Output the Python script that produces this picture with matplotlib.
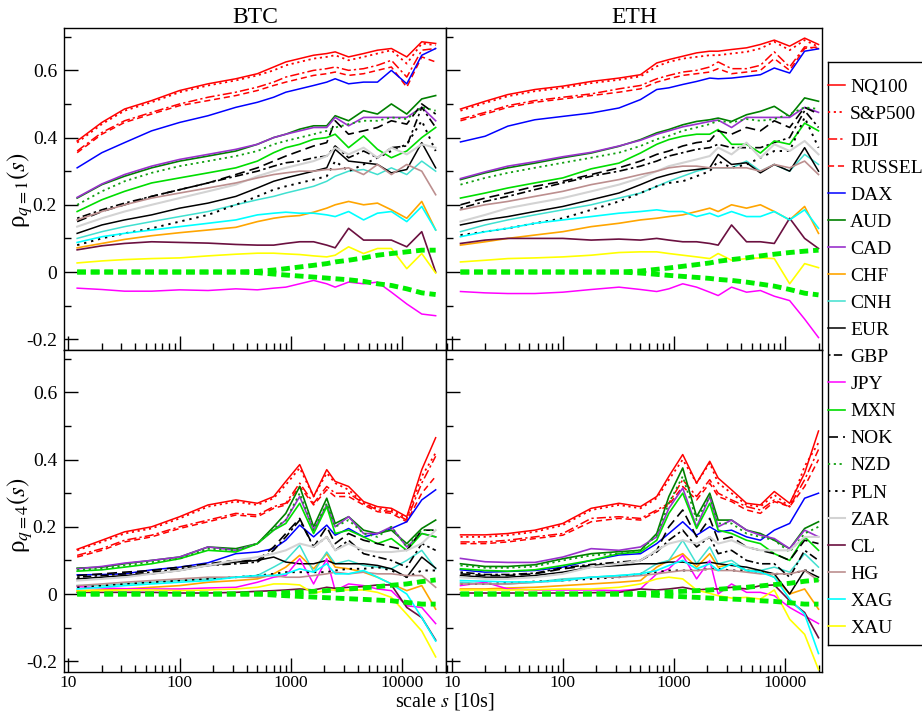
import matplotlib
matplotlib.use('Agg')
import matplotlib.pyplot as plt
from matplotlib.lines import Line2D
from matplotlib.ticker import LogLocator, NullFormatter, FixedLocator

plt.rcParams['font.family'] = ['Liberation Serif', 'DejaVu Serif']
plt.rcParams['mathtext.fontset'] = 'stix'

names = ['NQ100', 'S&P500', 'DJI', 'RUSSEL', 'DAX', 'AUD', 'CAD', 'CHF', 'CNH', 'EUR', 'GBP',
         'JPY', 'MXN', 'NOK', 'NZD', 'PLN', 'ZAR', 'CL', 'HG', 'XAG', 'XAU']

# scale s in units of 10 s
scales = [12, 20, 32, 56, 100, 180, 320, 500, 700, 900, 1200, 1600, 2100, 2500, 3300, 4500,
          6000, 8000, 11000, 15000, 20000]

# ---------------- BTC, q = 1 ----------------
btc_q1 = {
    'NQ100':  [0.39, 0.445, 0.485, 0.51, 0.54, 0.56, 0.575, 0.59, 0.61, 0.625, 0.635, 0.645, 0.65, 0.655, 0.64, 0.65, 0.66, 0.665, 0.64, 0.685, 0.68],
    'S&P500': [0.385, 0.44, 0.48, 0.505, 0.535, 0.555, 0.57, 0.585, 0.60, 0.615, 0.625, 0.635, 0.64, 0.645, 0.63, 0.64, 0.65, 0.66, 0.62, 0.68, 0.675],
    'DJI':    [0.36, 0.415, 0.45, 0.475, 0.50, 0.52, 0.535, 0.55, 0.565, 0.58, 0.59, 0.60, 0.605, 0.61, 0.60, 0.605, 0.615, 0.63, 0.58, 0.66, 0.665],
    'RUSSEL': [0.355, 0.41, 0.445, 0.47, 0.495, 0.51, 0.525, 0.54, 0.555, 0.565, 0.575, 0.585, 0.59, 0.595, 0.585, 0.59, 0.60, 0.61, 0.55, 0.64, 0.625],
    'DAX':    [0.31, 0.355, 0.385, 0.42, 0.445, 0.465, 0.49, 0.505, 0.52, 0.535, 0.545, 0.555, 0.565, 0.575, 0.56, 0.565, 0.565, 0.60, 0.56, 0.645, 0.665],
    'AUD':    [0.22, 0.26, 0.285, 0.31, 0.33, 0.345, 0.36, 0.38, 0.40, 0.41, 0.425, 0.435, 0.435, 0.465, 0.45, 0.48, 0.47, 0.50, 0.47, 0.515, 0.525],
    'CAD':    [0.222, 0.262, 0.29, 0.315, 0.335, 0.35, 0.365, 0.38, 0.40, 0.41, 0.42, 0.43, 0.43, 0.46, 0.435, 0.46, 0.46, 0.46, 0.46, 0.49, 0.45],
    'CHF':    [0.072, 0.085, 0.097, 0.108, 0.117, 0.125, 0.133, 0.15, 0.16, 0.165, 0.168, 0.178, 0.19, 0.2, 0.21, 0.2, 0.205, 0.185, 0.16, 0.21, 0.125],
    'CNH':    [0.1, 0.12, 0.135, 0.15, 0.165, 0.18, 0.2, 0.215, 0.225, 0.235, 0.245, 0.255, 0.27, 0.285, 0.30, 0.305, 0.29, 0.31, 0.29, 0.33, 0.30],
    'EUR':    [0.115, 0.14, 0.155, 0.17, 0.19, 0.205, 0.225, 0.25, 0.27, 0.28, 0.29, 0.30, 0.31, 0.365, 0.33, 0.325, 0.32, 0.295, 0.305, 0.385, 0.31],
    'GBP':    [0.16, 0.185, 0.205, 0.225, 0.245, 0.265, 0.285, 0.30, 0.315, 0.325, 0.33, 0.34, 0.345, 0.375, 0.34, 0.36, 0.34, 0.37, 0.375, 0.49, 0.43],
    'JPY':    [-0.048, -0.052, -0.057, -0.057, -0.053, -0.055, -0.05, -0.053, -0.048, -0.045, -0.035, -0.025, -0.035, -0.045, -0.03, -0.035, -0.03, -0.06, -0.095, -0.125, -0.13],
    'MXN':    [0.18, 0.215, 0.24, 0.265, 0.28, 0.295, 0.31, 0.33, 0.355, 0.37, 0.38, 0.395, 0.40, 0.41, 0.37, 0.405, 0.365, 0.34, 0.36, 0.40, 0.43],
    'NOK':    [0.15, 0.18, 0.20, 0.225, 0.245, 0.265, 0.29, 0.31, 0.33, 0.345, 0.36, 0.375, 0.385, 0.45, 0.41, 0.42, 0.43, 0.45, 0.44, 0.50, 0.47],
    'NZD':    [0.20, 0.24, 0.27, 0.295, 0.315, 0.33, 0.345, 0.36, 0.38, 0.39, 0.40, 0.41, 0.42, 0.43, 0.44, 0.45, 0.45, 0.46, 0.455, 0.49, 0.48],
    'PLN':    [0.08, 0.10, 0.115, 0.13, 0.15, 0.17, 0.20, 0.225, 0.245, 0.255, 0.265, 0.275, 0.285, 0.33, 0.30, 0.32, 0.34, 0.36, 0.38, 0.45, 0.36],
    'ZAR':    [0.135, 0.16, 0.18, 0.20, 0.22, 0.24, 0.26, 0.285, 0.30, 0.31, 0.32, 0.33, 0.345, 0.37, 0.35, 0.37, 0.34, 0.37, 0.35, 0.38, 0.37],
    'CL':     [0.066, 0.078, 0.085, 0.09, 0.088, 0.086, 0.082, 0.08, 0.08, 0.085, 0.09, 0.09, 0.08, 0.072, 0.13, 0.095, 0.095, 0.095, 0.075, 0.12, 0.0],
    'HG':     [0.155, 0.18, 0.20, 0.22, 0.235, 0.25, 0.265, 0.28, 0.29, 0.295, 0.30, 0.30, 0.305, 0.305, 0.31, 0.29, 0.32, 0.29, 0.32, 0.30, 0.23],
    'XAG':    [0.088, 0.105, 0.115, 0.125, 0.135, 0.145, 0.155, 0.17, 0.175, 0.178, 0.175, 0.175, 0.17, 0.165, 0.18, 0.155, 0.175, 0.18, 0.15, 0.195, 0.125],
    'XAU':    [0.027, 0.033, 0.037, 0.04, 0.042, 0.048, 0.053, 0.056, 0.056, 0.054, 0.052, 0.048, 0.045, 0.05, 0.075, 0.055, 0.07, 0.07, 0.01, 0.055, -0.003],
}
btc_q1_band_hi = [0, 0, 0, 0, 0, 0, 0, 0.002, 0.006, 0.01, 0.015, 0.02, 0.025, 0.03, 0.035, 0.042, 0.05, 0.055, 0.06, 0.065, 0.065]
btc_q1_band_lo = [0, 0, 0, 0, 0, 0, 0, -0.002, -0.006, -0.009, -0.012, -0.015, -0.018, -0.02, -0.023, -0.028, -0.035, -0.04, -0.05, -0.062, -0.067]

# ---------------- ETH, q = 1 ----------------
eth_q1 = {
    'NQ100':  [0.485, 0.508, 0.528, 0.543, 0.553, 0.567, 0.577, 0.587, 0.622, 0.632, 0.642, 0.652, 0.657, 0.657, 0.662, 0.667, 0.677, 0.69, 0.672, 0.696, 0.677],
    'S&P500': [0.48, 0.503, 0.523, 0.538, 0.548, 0.562, 0.572, 0.582, 0.612, 0.625, 0.635, 0.64, 0.645, 0.645, 0.65, 0.655, 0.665, 0.685, 0.66, 0.69, 0.67],
    'DJI':    [0.455, 0.475, 0.495, 0.51, 0.52, 0.53, 0.545, 0.555, 0.575, 0.585, 0.595, 0.60, 0.61, 0.625, 0.605, 0.605, 0.615, 0.655, 0.61, 0.67, 0.665],
    'RUSSEL': [0.45, 0.47, 0.49, 0.505, 0.515, 0.525, 0.535, 0.545, 0.565, 0.575, 0.585, 0.59, 0.595, 0.605, 0.59, 0.595, 0.60, 0.635, 0.60, 0.665, 0.67],
    'DAX':    [0.387, 0.404, 0.434, 0.453, 0.463, 0.473, 0.488, 0.513, 0.543, 0.548, 0.558, 0.567, 0.577, 0.575, 0.577, 0.582, 0.587, 0.607, 0.592, 0.657, 0.664],
    'AUD':    [0.275, 0.295, 0.31, 0.324, 0.34, 0.354, 0.374, 0.394, 0.414, 0.424, 0.438, 0.448, 0.453, 0.458, 0.448, 0.468, 0.478, 0.493, 0.463, 0.518, 0.508],
    'CAD':    [0.278, 0.298, 0.315, 0.328, 0.343, 0.356, 0.375, 0.392, 0.41, 0.42, 0.432, 0.44, 0.448, 0.452, 0.43, 0.46, 0.46, 0.46, 0.46, 0.49, 0.475],
    'CHF':    [0.08, 0.09, 0.1, 0.11, 0.12, 0.135, 0.145, 0.155, 0.16, 0.165, 0.17, 0.18, 0.19, 0.18, 0.2, 0.19, 0.2, 0.18, 0.155, 0.195, 0.115],
    'CNH':    [0.12, 0.14, 0.155, 0.17, 0.185, 0.2, 0.22, 0.235, 0.255, 0.27, 0.285, 0.3, 0.31, 0.31, 0.31, 0.33, 0.3, 0.32, 0.3, 0.35, 0.32],
    'EUR':    [0.14, 0.155, 0.165, 0.18, 0.195, 0.215, 0.235, 0.26, 0.28, 0.29, 0.3, 0.305, 0.31, 0.35, 0.32, 0.325, 0.295, 0.32, 0.3, 0.37, 0.3],
    'GBP':    [0.19, 0.21, 0.225, 0.245, 0.265, 0.285, 0.30, 0.315, 0.33, 0.345, 0.355, 0.365, 0.37, 0.38, 0.37, 0.37, 0.37, 0.385, 0.40, 0.48, 0.43],
    'JPY':    [-0.058, -0.062, -0.064, -0.064, -0.06, -0.052, -0.045, -0.052, -0.058, -0.05, -0.035, -0.045, -0.06, -0.07, -0.045, -0.06, -0.055, -0.072, -0.085, -0.14, -0.195],
    'MXN':    [0.22, 0.235, 0.25, 0.265, 0.28, 0.307, 0.324, 0.354, 0.38, 0.394, 0.404, 0.41, 0.41, 0.424, 0.38, 0.38, 0.354, 0.39, 0.38, 0.443, 0.42],
    'NOK':    [0.2, 0.22, 0.235, 0.255, 0.27, 0.29, 0.31, 0.33, 0.35, 0.36, 0.375, 0.385, 0.39, 0.42, 0.41, 0.43, 0.42, 0.45, 0.43, 0.49, 0.47],
    'NZD':    [0.26, 0.28, 0.295, 0.31, 0.325, 0.34, 0.355, 0.375, 0.395, 0.405, 0.42, 0.43, 0.44, 0.45, 0.445, 0.455, 0.45, 0.455, 0.47, 0.49, 0.485],
    'PLN':    [0.11, 0.12, 0.13, 0.145, 0.16, 0.185, 0.21, 0.235, 0.255, 0.265, 0.27, 0.285, 0.3, 0.33, 0.31, 0.32, 0.34, 0.36, 0.36, 0.46, 0.37],
    'ZAR':    [0.15, 0.17, 0.19, 0.205, 0.22, 0.24, 0.26, 0.28, 0.3, 0.315, 0.325, 0.335, 0.345, 0.37, 0.35, 0.385, 0.34, 0.38, 0.36, 0.39, 0.35],
    'CL':     [0.085, 0.095, 0.1, 0.1, 0.1, 0.095, 0.098, 0.095, 0.1, 0.095, 0.09, 0.09, 0.085, 0.08, 0.14, 0.09, 0.09, 0.085, 0.16, 0.1, 0.07],
    'HG':     [0.185, 0.2, 0.21, 0.225, 0.24, 0.26, 0.275, 0.29, 0.3, 0.31, 0.315, 0.315, 0.31, 0.31, 0.31, 0.31, 0.3, 0.32, 0.31, 0.33, 0.29],
    'XAG':    [0.105, 0.12, 0.13, 0.145, 0.155, 0.165, 0.175, 0.18, 0.185, 0.18, 0.18, 0.165, 0.175, 0.165, 0.18, 0.165, 0.165, 0.18, 0.155, 0.185, 0.13],
    'XAU':    [0.03, 0.035, 0.04, 0.042, 0.045, 0.05, 0.058, 0.06, 0.06, 0.055, 0.05, 0.045, 0.04, 0.055, 0.035, 0.04, 0.042, 0.04, -0.035, 0.025, 0.013],
}
eth_q1_band_hi = [0, 0, 0, 0, 0, 0, 0, 0.003, 0.008, 0.012, 0.017, 0.022, 0.027, 0.032, 0.037, 0.042, 0.048, 0.053, 0.058, 0.062, 0.065]
eth_q1_band_lo = [0, 0, 0, 0, 0, 0, 0, -0.003, -0.007, -0.01, -0.013, -0.016, -0.019, -0.022, -0.025, -0.03, -0.036, -0.042, -0.052, -0.063, -0.068]

# ---------------- BTC, q = 4 ----------------
btc_q4 = {
    'NQ100':  [0.133, 0.16, 0.185, 0.2, 0.23, 0.265, 0.28, 0.27, 0.29, 0.335, 0.385, 0.29, 0.37, 0.335, 0.32, 0.275, 0.26, 0.255, 0.23, 0.37, 0.465],
    'S&P500': [0.13, 0.155, 0.18, 0.195, 0.225, 0.26, 0.275, 0.265, 0.285, 0.325, 0.375, 0.29, 0.36, 0.33, 0.31, 0.27, 0.255, 0.25, 0.225, 0.35, 0.42],
    'DJI':    [0.115, 0.135, 0.16, 0.175, 0.2, 0.22, 0.24, 0.235, 0.26, 0.27, 0.33, 0.27, 0.32, 0.3, 0.3, 0.27, 0.25, 0.245, 0.22, 0.33, 0.41],
    'RUSSEL': [0.11, 0.13, 0.155, 0.17, 0.195, 0.215, 0.235, 0.23, 0.255, 0.265, 0.32, 0.265, 0.31, 0.29, 0.29, 0.265, 0.245, 0.24, 0.215, 0.3, 0.35],
    'DAX':    [0.057, 0.058, 0.06, 0.072, 0.08, 0.093, 0.12, 0.125, 0.135, 0.16, 0.205, 0.17, 0.205, 0.175, 0.195, 0.17, 0.18, 0.195, 0.215, 0.28, 0.31],
    'AUD':    [0.077, 0.08, 0.09, 0.1, 0.11, 0.14, 0.135, 0.15, 0.2, 0.24, 0.32, 0.2, 0.285, 0.21, 0.23, 0.19, 0.18, 0.19, 0.15, 0.195, 0.22],
    'CAD':    [0.075, 0.082, 0.092, 0.1, 0.11, 0.14, 0.13, 0.15, 0.19, 0.22, 0.29, 0.19, 0.265, 0.2, 0.23, 0.18, 0.18, 0.2, 0.14, 0.18, 0.17],
    'CHF':    [0.01, 0.012, 0.015, 0.02, 0.025, 0.035, 0.04, 0.045, 0.06, 0.08, 0.115, 0.075, 0.12, 0.08, 0.075, 0.065, 0.05, 0.03, 0.01, 0.025, -0.045],
    'CNH':    [0.025, 0.025, 0.03, 0.035, 0.04, 0.045, 0.05, 0.055, 0.08, 0.1, 0.145, 0.065, 0.125, 0.09, 0.1, 0.085, 0.08, 0.075, 0.1, 0.13, 0.075],
    'EUR':    [0.045, 0.05, 0.055, 0.06, 0.07, 0.085, 0.095, 0.1, 0.11, 0.095, 0.09, 0.09, 0.1, 0.09, 0.09, 0.09, 0.085, 0.075, 0.05, 0.11, 0.077],
    'GBP':    [0.05, 0.055, 0.06, 0.065, 0.075, 0.085, 0.09, 0.095, 0.13, 0.17, 0.22, 0.14, 0.17, 0.13, 0.16, 0.12, 0.11, 0.1, 0.08, 0.15, 0.13],
    'JPY':    [0.022, 0.018, 0.016, 0.015, 0.015, 0.018, 0.02, 0.035, 0.05, 0.055, 0.105, 0.03, 0.105, 0.01, 0.03, 0.025, 0.015, 0.01, -0.035, -0.04, -0.088],
    'MXN':    [0.068, 0.072, 0.08, 0.09, 0.105, 0.13, 0.125, 0.15, 0.19, 0.21, 0.27, 0.18, 0.26, 0.18, 0.19, 0.17, 0.15, 0.165, 0.13, 0.18, 0.17],
    'NOK':    [0.055, 0.06, 0.065, 0.07, 0.08, 0.09, 0.1, 0.1, 0.14, 0.18, 0.225, 0.14, 0.2, 0.15, 0.18, 0.16, 0.15, 0.14, 0.13, 0.19, 0.19],
    'NZD':    [0.072, 0.076, 0.085, 0.095, 0.105, 0.135, 0.13, 0.15, 0.195, 0.22, 0.3, 0.19, 0.27, 0.2, 0.22, 0.18, 0.17, 0.2, 0.14, 0.19, 0.19],
    'PLN':    [0.02, 0.025, 0.03, 0.035, 0.04, 0.045, 0.05, 0.055, 0.06, 0.065, 0.065, 0.065, 0.065, 0.07, 0.075, 0.075, 0.08, 0.07, 0.05, 0.07, 0.07],
    'ZAR':    [0.04, 0.045, 0.05, 0.06, 0.07, 0.085, 0.1, 0.11, 0.12, 0.13, 0.15, 0.14, 0.17, 0.13, 0.15, 0.13, 0.125, 0.125, 0.13, 0.15, 0.19],
    'CL':     [0.005, 0.005, 0.005, 0.005, 0.003, 0.003, 0.005, 0.008, 0.01, 0.012, 0.015, 0.012, 0.02, 0.017, 0.02, 0.022, 0.027, 0.027, -0.04, -0.07, -0.137],
    'HG':     [0.025, 0.03, 0.035, 0.04, 0.045, 0.05, 0.05, 0.05, 0.055, 0.05, 0.05, 0.055, 0.06, 0.065, 0.06, 0.065, 0.06, 0.06, 0.055, 0.055, 0.02],
    'XAG':    [0.015, 0.02, 0.025, 0.03, 0.035, 0.04, 0.05, 0.055, 0.055, 0.06, 0.075, 0.065, 0.09, 0.06, 0.06, 0.07, 0.05, 0.03, 0.0, -0.07, -0.14],
    'XAU':    [0.008, 0.01, 0.012, 0.012, 0.01, 0.012, 0.015, 0.02, 0.03, 0.03, 0.027, 0.002, 0.012, 0.012, 0.012, 0.012, 0.005, -0.01, -0.06, -0.11, -0.187],
}
btc_q4_band_hi = [0, 0, 0, 0, 0, 0, 0, 0, 0.002, 0.004, 0.006, 0.008, 0.01, 0.012, 0.015, 0.018, 0.022, 0.026, 0.03, 0.037, 0.042]
btc_q4_band_lo = [0, 0, 0, 0, 0, 0, 0, 0, -0.003, -0.005, -0.007, -0.009, -0.011, -0.012, -0.014, -0.016, -0.018, -0.02, -0.025, -0.03, -0.03]

# ---------------- ETH, q = 4 ----------------
eth_q4 = {
    'NQ100':  [0.176, 0.176, 0.18, 0.19, 0.21, 0.255, 0.27, 0.26, 0.29, 0.35, 0.415, 0.33, 0.395, 0.345, 0.31, 0.27, 0.265, 0.305, 0.27, 0.36, 0.485],
    'S&P500': [0.17, 0.17, 0.175, 0.185, 0.205, 0.25, 0.265, 0.255, 0.285, 0.34, 0.4, 0.33, 0.39, 0.33, 0.3, 0.265, 0.26, 0.295, 0.26, 0.38, 0.45],
    'DJI':    [0.155, 0.155, 0.16, 0.17, 0.18, 0.225, 0.23, 0.225, 0.25, 0.27, 0.34, 0.29, 0.34, 0.3, 0.28, 0.26, 0.25, 0.28, 0.26, 0.34, 0.43],
    'RUSSEL': [0.15, 0.15, 0.155, 0.165, 0.175, 0.215, 0.225, 0.22, 0.245, 0.265, 0.32, 0.28, 0.33, 0.29, 0.275, 0.25, 0.24, 0.275, 0.26, 0.32, 0.4],
    'DAX':    [0.072, 0.065, 0.067, 0.07, 0.08, 0.1, 0.116, 0.12, 0.15, 0.18, 0.215, 0.175, 0.2, 0.185, 0.19, 0.17, 0.16, 0.19, 0.21, 0.285, 0.3],
    'AUD':    [0.09, 0.082, 0.082, 0.087, 0.105, 0.12, 0.126, 0.13, 0.18, 0.29, 0.375, 0.23, 0.3, 0.22, 0.22, 0.19, 0.18, 0.16, 0.135, 0.195, 0.215],
    'CAD':    [0.106, 0.096, 0.094, 0.094, 0.11, 0.135, 0.13, 0.14, 0.17, 0.255, 0.315, 0.2, 0.29, 0.2, 0.22, 0.19, 0.175, 0.165, 0.135, 0.19, 0.17],
    'CHF':    [0.015, 0.015, 0.018, 0.02, 0.025, 0.03, 0.035, 0.04, 0.08, 0.1, 0.12, 0.08, 0.12, 0.08, 0.09, 0.07, 0.07, 0.05, 0.0, 0.015, -0.045],
    'CNH':    [0.035, 0.03, 0.03, 0.035, 0.045, 0.05, 0.055, 0.06, 0.09, 0.1, 0.16, 0.09, 0.14, 0.09, 0.1, 0.07, 0.07, 0.08, 0.065, 0.12, 0.08],
    'EUR':    [0.055, 0.05, 0.05, 0.055, 0.065, 0.08, 0.085, 0.09, 0.09, 0.095, 0.095, 0.09, 0.095, 0.09, 0.085, 0.08, 0.07, 0.06, 0.0, 0.07, 0.05],
    'GBP':    [0.065, 0.058, 0.058, 0.062, 0.078, 0.088, 0.095, 0.1, 0.125, 0.16, 0.19, 0.14, 0.17, 0.12, 0.13, 0.1, 0.09, 0.09, 0.05, 0.13, 0.1],
    'JPY':    [0.025, 0.035, 0.015, 0.012, 0.012, 0.012, 0.01, 0.015, 0.06, 0.075, 0.115, 0.045, 0.1, 0.0, 0.03, 0.005, 0.005, -0.005, -0.04, -0.065, -0.088],
    'MXN':    [0.075, 0.07, 0.068, 0.072, 0.085, 0.1, 0.12, 0.125, 0.16, 0.24, 0.3, 0.195, 0.27, 0.19, 0.18, 0.16, 0.15, 0.12, 0.1, 0.17, 0.13],
    'NOK':    [0.06, 0.055, 0.055, 0.06, 0.075, 0.085, 0.09, 0.1, 0.13, 0.2, 0.25, 0.17, 0.225, 0.16, 0.17, 0.14, 0.13, 0.12, 0.1, 0.16, 0.15],
    'NZD':    [0.085, 0.078, 0.078, 0.082, 0.1, 0.115, 0.12, 0.13, 0.175, 0.27, 0.35, 0.22, 0.29, 0.21, 0.21, 0.18, 0.17, 0.16, 0.125, 0.18, 0.2],
    'PLN':    [0.03, 0.03, 0.033, 0.037, 0.04, 0.045, 0.05, 0.06, 0.065, 0.07, 0.07, 0.07, 0.075, 0.075, 0.07, 0.07, 0.065, 0.06, 0.06, 0.07, 0.07],
    'ZAR':    [0.05, 0.045, 0.045, 0.05, 0.06, 0.08, 0.09, 0.1, 0.13, 0.15, 0.16, 0.15, 0.17, 0.15, 0.16, 0.14, 0.13, 0.13, 0.13, 0.17, 0.17],
    'CL':     [0.003, 0.003, 0.003, 0.003, 0.003, 0.004, 0.005, 0.015, 0.012, 0.015, 0.02, 0.012, 0.015, 0.015, 0.02, 0.015, 0.025, 0.027, -0.02, -0.055, -0.13],
    'HG':     [0.03, 0.03, 0.03, 0.035, 0.04, 0.05, 0.05, 0.055, 0.06, 0.065, 0.07, 0.07, 0.075, 0.07, 0.07, 0.065, 0.06, 0.06, 0.06, 0.07, 0.04],
    'XAG':    [0.04, 0.038, 0.036, 0.036, 0.04, 0.05, 0.055, 0.06, 0.07, 0.085, 0.1, 0.075, 0.09, 0.07, 0.09, 0.07, 0.065, 0.05, -0.015, -0.06, -0.177],
    'XAU':    [0.012, 0.012, 0.012, 0.013, 0.015, 0.015, 0.02, 0.03, 0.045, 0.05, 0.045, 0.012, 0.002, -0.005, -0.012, -0.01, -0.015, 0.012, -0.075, -0.12, -0.225],
}
eth_q4_band_hi = [0, 0, 0, 0, 0, 0, 0, 0.002, 0.004, 0.006, 0.008, 0.01, 0.012, 0.014, 0.017, 0.02, 0.024, 0.028, 0.032, 0.038, 0.042]
eth_q4_band_lo = [0, 0, 0, 0, 0, 0, 0, -0.002, -0.004, -0.006, -0.008, -0.01, -0.012, -0.013, -0.015, -0.017, -0.02, -0.022, -0.026, -0.03, -0.03]

# line styles (colour, dash pattern, width)
styles = {
    'NQ100':  ('#ff0000', '-', 1.1),
    'S&P500': ('#ff0000', (0, (1.2, 2.0)), 1.3),
    'DJI':    ('#ff0000', (0, (6, 2, 1.5, 2)), 1.1),
    'RUSSEL': ('#ff0000', (0, (4, 2.5)), 1.1),
    'DAX':    ('#0000ff', '-', 1.1),
    'AUD':    ('#008000', '-', 1.2),
    'CAD':    ('#9932cc', '-', 1.2),
    'CHF':    ('#ffa500', '-', 1.2),
    'CNH':    ('#40e0d0', '-', 1.1),
    'EUR':    ('#000000', '-', 1.1),
    'GBP':    ('#000000', (0, (1.5, 2, 5, 2)), 1.2),
    'JPY':    ('#ff00ff', '-', 1.1),
    'MXN':    ('#00dd00', '-', 1.2),
    'NOK':    ('#000000', (0, (6, 3)), 1.2),
    'NZD':    ('#10a010', (0, (1.2, 2)), 1.3),
    'PLN':    ('#000000', (0, (1.2, 2.5)), 1.4),
    'ZAR':    ('#d3d3d3', '-', 1.5),
    'CL':     ('#6b1040', '-', 1.2),
    'HG':     ('#bc8f8f', '-', 1.2),
    'XAG':    ('#00ffff', '-', 1.2),
    'XAU':    ('#ffff00', '-', 1.2),
}

W, H = 922, 712
fig = plt.figure(figsize=(W / 100, H / 100), dpi=100)

panels = [
    (btc_q1, btc_q1_band_hi, btc_q1_band_lo, [64, 28, 446, 350], (9.14, 24770)),
    (eth_q1, eth_q1_band_hi, eth_q1_band_lo, [446, 28, 822, 350], (8.89, 21500)),
    (btc_q4, btc_q4_band_hi, btc_q4_band_lo, [64, 350, 446, 672], (9.14, 24770)),
    (eth_q4, eth_q4_band_hi, eth_q4_band_lo, [446, 350, 822, 672], (8.89, 21500)),
]

axes = []
for i, (data, band_hi, band_lo, box, xl) in enumerate(panels):
    x0, y0, x1, y1 = box
    ax = fig.add_axes([x0 / W, 1 - y1 / H, (x1 - x0) / W, (y1 - y0) / H])
    axes.append(ax)
    for name in names:
        c, ls, lw = styles[name]
        ax.plot(scales, data[name], color=c, linestyle=ls, linewidth=lw, label=name)
    ax.plot(scales, band_hi, color='#00ee00', linestyle=(0, (1.8, 1.0)), linewidth=3.5)
    ax.plot(scales, band_lo, color='#00ee00', linestyle=(0, (1.8, 1.0)), linewidth=3.5)

    ax.set_xscale('log')
    ax.set_xlim(*xl)
    ax.set_ylim(-0.232, 0.726)
    ax.xaxis.set_major_locator(FixedLocator([10, 100, 1000, 10000]))
    ax.xaxis.set_minor_locator(LogLocator(base=10, subs=range(2, 10), numticks=20))
    ax.xaxis.set_minor_formatter(NullFormatter())
    ax.set_yticks([-0.2, 0, 0.2, 0.4, 0.6])
    ax.set_yticks([-0.1, 0.1, 0.3, 0.5, 0.7], minor=True)
    ax.tick_params(which='both', direction='in', top=False, right=False, width=1)
    ax.tick_params(axis='y', labelsize=14)
    ax.tick_params(axis='x', labelsize=12.5)
    ax.tick_params(which='major', length=10)
    ax.tick_params(axis='y', which='major', pad=5)
    ax.tick_params(axis='x', which='major', pad=2)
    ax.tick_params(which='minor', length=5)
    for sp in ax.spines.values():
        sp.set_linewidth(1.0)

    if i in (0, 2):
        ax.set_yticklabels(['-0.2', '0', '0.2', '0.4', '0.6'])
    else:
        ax.set_yticklabels([])
    if i in (2, 3):
        ax.set_xticklabels(['10', '100', '1000', '10000'])
    else:
        ax.set_xticklabels([])

axes[0].set_title('BTC', fontsize=17, pad=1)
axes[1].set_title('ETH', fontsize=17, pad=1)
fig.text(20 / W, 1 - 190 / H, r'ρ$_{q=1}(s)$', rotation=90, ha='center', va='center', fontsize=18)
fig.text(20 / W, 1 - 515 / H, r'ρ$_{q=4}(s)$', rotation=90, ha='center', va='center', fontsize=18)
fig.text(445 / W, 1 - 701 / H, 'scale $s$ [10s]', ha='center', va='center', fontsize=14.5)

# legend on the right, frame drawn by hand (it runs off the figure edge)
handles, labels = axes[0].get_legend_handles_labels()
fig.legend(handles[:21], labels[:21], loc='upper left',
           bbox_to_anchor=(828 / W, 1 - 78 / H), frameon=False, fontsize=14,
           borderpad=0, borderaxespad=0, handlelength=0.88, handletextpad=0.26,
           labelspacing=0.486)
fx = 828 / W
fig.add_artist(Line2D([fx, 1], [1 - 62 / H] * 2, transform=fig.transFigure, color='k', lw=1))
fig.add_artist(Line2D([fx, fx], [1 - 62 / H, 1 - 645 / H], transform=fig.transFigure, color='k', lw=1))
fig.add_artist(Line2D([fx, 1], [1 - 645 / H] * 2, transform=fig.transFigure, color='k', lw=1))

fig.savefig('out.png', dpi=100)
